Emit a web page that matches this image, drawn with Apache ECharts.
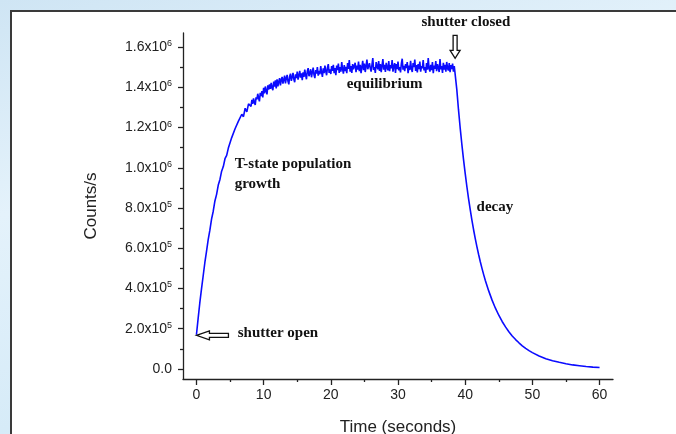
<!DOCTYPE html>
<html>
<head>
<meta charset="utf-8">
<script src="https://cdn.jsdelivr.net/npm/echarts@6/dist/echarts.min.js"></script>
<style>
html, body { margin: 0; padding: 0; width: 676px; height: 434px; overflow: hidden; }
body { background: linear-gradient(165deg, #cfe5f4 0%, #e4f2fb 35%, #d6ebf8 70%, #e6f3fb 100%); position: relative; }
#panel { position: absolute; left: 10px; top: 10px; width: 800px; height: 600px; background: #fff; border: 2px solid #3a3a3a; }
#main { position: absolute; left: 0; top: 0; width: 676px; height: 434px; }
</style>
</head>
<body>
<div id="panel"></div>
<div id="main"></div>
<script>
// counts in units of 1000 counts/s
// rise, sampled every 0.25 s from 0 s
var riseStart = 0;
var riseStep = 0.25;
var riseCounts = [170, 250, 328, 397, 462, 528, 584, 643, 690, 745,
  784, 835, 868, 914, 942, 983, 1006, 1045, 1062, 1098,
  1106, 1150, 1152, 1194, 1190, 1232, 1224, 1266, 1254, 1296,
  1278, 1318];
// noisy part, sampled every 0.125 s from 8 s up to shutter closing
var plateauStart = 8;
var plateauStep = 0.125;
var plateauCounts = [
  1322, 1305, 1338, 1318, 1345, 1326, 1312, 1350,
  1340, 1368, 1347, 1330, 1372, 1356, 1381, 1350,
  1398, 1370, 1404, 1382, 1365, 1410, 1389, 1415,
  1392, 1422, 1398, 1386, 1428, 1404, 1435, 1395,
  1440, 1405, 1428, 1446, 1410, 1436, 1452, 1418,
  1427, 1458, 1420, 1445, 1462, 1430, 1415, 1455,
  1468, 1432, 1450, 1472, 1440, 1425, 1465, 1446,
  1478, 1438, 1460, 1482, 1448, 1470, 1435, 1474,
  1452, 1488, 1462, 1440, 1480, 1495, 1455, 1470,
  1490, 1450, 1476, 1498, 1462, 1446, 1486, 1468,
  1500, 1458, 1482, 1465, 1505, 1474, 1452, 1494,
  1470, 1508, 1480, 1460, 1498, 1515, 1472, 1489,
  1466, 1505, 1482, 1512, 1470, 1495, 1460, 1508,
  1485, 1518, 1472, 1500, 1478, 1525, 1490, 1468,
  1510, 1480, 1502, 1470, 1520, 1492, 1535, 1478,
  1505, 1472, 1515, 1490, 1482, 1522, 1475, 1508,
  1488, 1528, 1480, 1512, 1470, 1500, 1532, 1485,
  1518, 1476, 1505, 1538, 1490, 1482, 1520, 1495,
  1478, 1512, 1545, 1486, 1500, 1472, 1525, 1505,
  1490, 1530, 1482, 1515, 1475, 1508, 1540, 1488,
  1512, 1476, 1522, 1498, 1485, 1530, 1480, 1510,
  1495, 1535, 1478, 1505, 1520, 1472, 1515, 1490,
  1528, 1484, 1500, 1474, 1518, 1542, 1488, 1506,
  1480, 1515, 1495, 1525, 1470, 1508, 1486, 1532,
  1492, 1476, 1520, 1500, 1538, 1482, 1510, 1474,
  1516, 1490, 1528, 1478, 1505, 1495, 1535, 1484,
  1500, 1472, 1520, 1488, 1545, 1494, 1478, 1512,
  1486, 1525, 1470, 1508, 1492, 1530, 1480, 1515,
  1498, 1476, 1540, 1490, 1505, 1472, 1522, 1488,
  1512, 1478, 1526, 1494, 1484, 1520, 1475, 1510,
  1490, 1518, 1478, 1505, 1500];
// decay after the shutter closes
var decayTimes = [38.75, 39, 39.25, 39.5, 39.75, 40, 40.25, 40.5, 40.75, 41,
  41.25, 41.5, 41.75, 42, 42.25, 42.5, 42.75, 43,
  43.5, 44, 44.5, 45, 45.5, 46, 46.5, 47, 47.5, 48, 48.5, 49, 49.5, 50,
  51, 52, 53, 54, 55, 56, 57, 58, 59, 60];
var decayCounts = [1390, 1290, 1200, 1118, 1042, 972, 907, 847, 792, 740,
  692, 648, 607, 569, 533, 500, 469, 440,
  388, 342, 302, 267, 236, 209, 185, 164, 146, 130, 115, 102, 91, 81,
  64, 51, 41, 33, 26, 20, 16, 12, 9, 7];

var xTicks = [0, 10, 20, 30, 40, 50, 60];
var xMinorTicks = [5, 15, 25, 35, 45, 55];
var yTicks = [0, 200, 400, 600, 800, 1000, 1200, 1400, 1600];
var yMinorTicks = [100, 300, 500, 700, 900, 1100, 1300, 1500];

// annotations: [time, kcounts]
var notes = [
  { text: 'shutter closed', at: [40.1, 1723], align: 'center' },
  { text: 'equilibrium', at: [28.0, 1415], align: 'center' },
  { text: 'T-state population\ngrowth', at: [5.7, 968], align: 'left' },
  { text: 'decay', at: [41.7, 805], align: 'left' },
  { text: 'shutter open', at: [6.15, 180], align: 'left' }
];
var arrowClosed = [38.5, 1544];
var arrowOpen = [0, 167];

var seriesData = [];
for (var i = 0; i < riseCounts.length; i++) {
  seriesData.push([riseStart + i * riseStep, riseCounts[i]]);
}
for (var k = 0; k < plateauCounts.length; k++) {
  seriesData.push([plateauStart + k * plateauStep, plateauCounts[k]]);
}
for (var j = 0; j < decayTimes.length; j++) {
  seriesData.push([decayTimes[j], decayCounts[j]]);
}

function yLabel(v) {
  if (v === 0) return '{m|0.0}';
  var c = v * 1000;
  var e = Math.floor(Math.log10(c) + 1e-9);
  var m = (c / Math.pow(10, e)).toFixed(1);
  return '{m|' + m + 'x10}{e|' + e + '}';
}

var axisColor = '#222';
var font = 'Liberation Sans, Arial, sans-serif';

var myChart = echarts.init(document.getElementById('main'));
var option = {
  animation: false,
  backgroundColor: 'transparent',
  grid: { left: 183, right: 63, top: 33, bottom: 55, outerBoundsMode: 'none', containLabel: false },
  xAxis: [{
    type: 'value',
    min: -2,
    max: 62,
    name: 'Time (seconds)',
    nameLocation: 'middle',
    nameGap: 40,
    nameTextStyle: { fontFamily: font, fontSize: 17, color: '#222' },
    axisLine: { onZero: false, lineStyle: { color: axisColor, width: 1.3 } },
    axisTick: { customValues: xTicks, length: 6, lineStyle: { color: axisColor, width: 1.3 } },
    axisLabel: { customValues: xTicks, margin: 9, fontFamily: font, fontSize: 14, color: '#222' },
    splitLine: { show: false }
  }, {
    type: 'value',
    min: -2,
    max: 62,
    position: 'bottom',
    axisLine: { show: false, onZero: false },
    axisTick: { customValues: xMinorTicks, length: 3, lineStyle: { color: axisColor, width: 1.3 } },
    axisLabel: { show: false },
    splitLine: { show: false }
  }],
  yAxis: [{
    type: 'value',
    min: -50,
    max: 1670,
    name: 'Counts/s',
    nameLocation: 'middle',
    nameGap: 83,
    nameTextStyle: { fontFamily: font, fontSize: 17, color: '#222' },
    axisLine: { show: true, onZero: false, lineStyle: { color: axisColor, width: 1.3 } },
    axisTick: { show: true, customValues: yTicks, length: 5, lineStyle: { color: axisColor, width: 1.3 } },
    axisLabel: {
      customValues: yTicks,
      margin: 11,
      formatter: yLabel,
      rich: {
        m: { fontFamily: font, fontSize: 14, color: '#222', lineHeight: 16 },
        e: { fontFamily: font, fontSize: 9, color: '#222', lineHeight: 9, verticalAlign: 'top' }
      }
    },
    splitLine: { show: false }
  }, {
    type: 'value',
    min: -50,
    max: 1670,
    position: 'left',
    axisLine: { show: false, onZero: false },
    axisTick: { show: true, customValues: yMinorTicks, length: 3, lineStyle: { color: axisColor, width: 1.3 } },
    axisLabel: { show: false },
    splitLine: { show: false }
  }],
  series: [{
    type: 'line',
    data: seriesData,
    showSymbol: false,
    symbol: 'none',
    lineStyle: { color: '#0b0bff', width: 1.6 },
    z: 3
  }]
};
myChart.setOption(option);

// annotations placed from data coordinates
var graphics = [];
notes.forEach(function(n) {
  var p = myChart.convertToPixel({ seriesIndex: 0 }, n.at);
  graphics.push({
    type: 'text',
    x: p[0],
    y: p[1],
    z: 10,
    style: {
      text: n.text,
      fill: '#111',
      font: 'bold 15px "Liberation Serif", "Times New Roman", serif',
      lineHeight: 20,
      textAlign: n.align,
      textVerticalAlign: 'middle'
    }
  });
});
var pc = myChart.convertToPixel({ seriesIndex: 0 }, arrowClosed);
graphics.push({
  type: 'polygon',
  x: pc[0],
  y: pc[1],
  z: 10,
  shape: { points: [[-2, -23], [2, -23], [2, -8], [5, -8], [0, 0], [-5, -8], [-2, -8]] },
  style: { fill: '#fff', stroke: '#111', lineWidth: 1.3 }
});
var po = myChart.convertToPixel({ seriesIndex: 0 }, arrowOpen);
graphics.push({
  type: 'polygon',
  x: po[0],
  y: po[1],
  z: 10,
  shape: { points: [[0, 0], [13, -4.5], [13, -2], [32, -2], [32, 2], [13, 2], [13, 4.5]] },
  style: { fill: '#fff', stroke: '#111', lineWidth: 1.3 }
});
myChart.setOption({ graphic: graphics });
</script>
</body>
</html>
